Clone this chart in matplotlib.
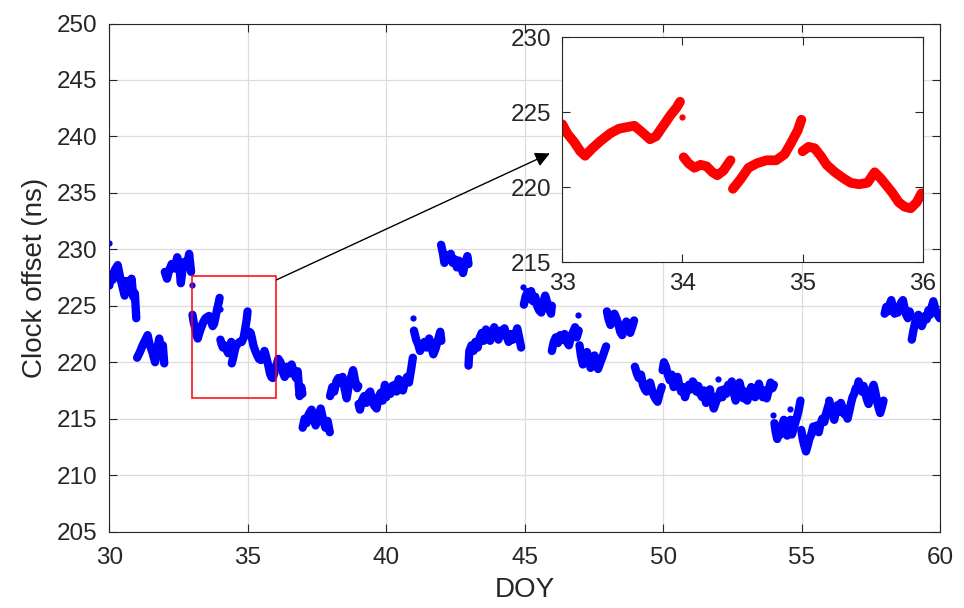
import matplotlib
matplotlib.use('Agg')
import matplotlib.pyplot as plt
import matplotlib.patches as patches

plt.rcParams['font.family'] = ['Liberation Sans', 'DejaVu Sans']

# clock offset record, one list per continuous piece (DOY / ns)
seg_doy = [
    [30.0, 30.05, 30.12, 30.2, 30.3, 30.38, 30.45, 30.55, 30.62, 30.7, 30.8, 30.86, 30.92, 30.97],
    [31.0, 31.1, 31.2, 31.3, 31.38, 31.45, 31.55, 31.65, 31.72, 31.8, 31.87, 31.93, 31.98],
    [32.0, 32.08, 32.15, 32.25, 32.35, 32.45, 32.52, 32.58, 32.65, 32.72, 32.8, 32.88, 32.95],
    [33.0, 33.04, 33.1, 33.15, 33.19, 33.25, 33.32, 33.4, 33.47, 33.53, 33.6, 33.66, 33.73, 33.78,
     33.84, 33.9, 33.95, 33.98],
    [34.01, 34.05, 34.1, 34.15, 34.2, 34.25, 34.29, 34.34, 34.4],
    [34.42, 34.48, 34.55, 34.62, 34.7, 34.78, 34.85, 34.9, 34.96, 34.99],
    [35.0, 35.05, 35.1, 35.15, 35.2, 35.27, 35.34, 35.4, 35.47, 35.54, 35.6, 35.65, 35.7, 35.75,
     35.8, 35.85, 35.9, 35.95, 35.99],
    [36.0, 36.1, 36.18, 36.25, 36.33, 36.42, 36.5, 36.58, 36.66, 36.74, 36.8, 36.87, 36.93, 36.97],
    [36.98, 37.05, 37.12, 37.2, 37.3, 37.38, 37.45, 37.55, 37.63, 37.72, 37.8, 37.88, 37.96],
    [37.97, 38.05, 38.12, 38.2, 38.27, 38.35, 38.42, 38.5, 38.57, 38.65, 38.72, 38.8, 38.88, 38.95, 38.99],
    [39.0, 39.05, 39.12, 39.2, 39.28, 39.35, 39.42, 39.5, 39.58, 39.65, 39.72, 39.8, 39.87, 39.95, 39.99],
    [40.0, 40.08, 40.15, 40.22, 40.3, 40.37, 40.45, 40.52, 40.6, 40.68, 40.75, 40.82, 40.9, 40.96],
    [41.0, 41.08, 41.15, 41.22, 41.3, 41.38, 41.45, 41.55, 41.62, 41.7, 41.78, 41.87, 41.95, 41.99],
    [41.98, 42.05, 42.1, 42.17, 42.25, 42.33, 42.4, 42.48, 42.55, 42.62, 42.7, 42.77, 42.85, 42.93, 42.97],
    [42.97, 43.0, 43.08, 43.15, 43.22, 43.3, 43.38, 43.45, 43.52, 43.6, 43.68, 43.75, 43.82, 43.9,
     43.97, 44.05, 44.12, 44.2, 44.27, 44.35, 44.42, 44.5, 44.58, 44.65, 44.73, 44.8, 44.87],
    [44.97, 45.03, 45.1, 45.17, 45.23, 45.3, 45.38, 45.45, 45.52, 45.6, 45.67, 45.74, 45.8, 45.87, 45.95, 45.98],
    [45.98, 46.05, 46.12, 46.2, 46.28, 46.36, 46.44, 46.52, 46.6, 46.67, 46.75, 46.82, 46.88, 46.95],
    [46.98, 47.03, 47.1, 47.18, 47.25, 47.32, 47.38, 47.45, 47.52, 47.58, 47.65, 47.72, 47.8, 47.87, 47.94],
    [47.97, 48.03, 48.1, 48.17, 48.24, 48.31, 48.38, 48.45, 48.52, 48.6, 48.67, 48.74, 48.81, 48.88, 48.95],
    [48.98, 49.05, 49.12, 49.2, 49.27, 49.34, 49.4, 49.47, 49.53, 49.6, 49.67, 49.74, 49.8, 49.87, 49.95],
    [49.98, 50.03, 50.1, 50.17, 50.24, 50.31, 50.38, 50.45, 50.52, 50.58, 50.65, 50.72, 50.79, 50.86,
     50.93, 50.98],
    [51.0, 51.07, 51.14, 51.2, 51.27, 51.34, 51.41, 51.48, 51.55, 51.62, 51.69, 51.76, 51.83, 51.9, 51.97],
    [52.0, 52.07, 52.14, 52.21, 52.28, 52.35, 52.42, 52.48, 52.55, 52.62, 52.69, 52.76, 52.83, 52.9,
     52.97, 53.04, 53.11, 53.18, 53.25, 53.32, 53.39, 53.46, 53.53, 53.6, 53.67, 53.74, 53.81, 53.88,
     53.95, 54.0],
    [54.02, 54.06, 54.12, 54.18, 54.24, 54.3, 54.36, 54.42, 54.48, 54.54, 54.6, 54.65, 54.72, 54.78,
     54.84, 54.9, 54.96],
    [54.99, 55.04, 55.1, 55.16, 55.22, 55.28, 55.35, 55.42, 55.48, 55.55, 55.62, 55.68, 55.75, 55.82,
     55.88, 55.95, 56.0],
    [56.0, 56.06, 56.12, 56.18, 56.24, 56.3, 56.36, 56.42, 56.48, 56.54, 56.6, 56.66, 56.72, 56.78,
     56.84, 56.9, 56.96],
    [57.0, 57.06, 57.12, 57.18, 57.24, 57.3, 57.36, 57.42, 57.48, 57.54, 57.6, 57.66, 57.72, 57.78,
     57.84, 57.9, 57.96],
    [58.0, 58.06, 58.12, 58.18, 58.24, 58.3, 58.36, 58.42, 58.48, 58.54, 58.6, 58.66, 58.72, 58.78,
     58.84, 58.9, 58.96],
    [58.98, 59.04, 59.1, 59.16, 59.22, 59.28, 59.34, 59.4, 59.46, 59.52, 59.58, 59.64, 59.7, 59.76,
     59.82, 59.88, 59.94, 59.99],
]
seg_ns = [
    [226.8, 227.8, 227.3, 228.2, 228.6, 227.6, 226.9, 225.9, 227.2, 226.3, 227.4, 225.8, 226.1, 223.9],
    [220.4, 220.9, 221.5, 222.0, 222.4, 221.6, 220.9, 220.0, 221.1, 222.1, 220.6, 221.5, 219.9],
    [228.0, 227.4, 228.1, 228.7, 228.3, 229.3, 228.6, 227.0, 228.4, 228.9, 228.5, 229.6, 228.0],
    [224.2, 223.6, 223.0, 222.4, 222.1, 222.6, 223.1, 223.6, 223.9, 224.0, 224.1, 223.7, 223.2, 223.4,
     224.1, 224.8, 225.3, 225.7],
    [222.0, 221.6, 221.3, 221.5, 221.4, 221.0, 220.8, 221.1, 221.8],
    [219.9, 220.5, 221.3, 221.6, 221.8, 221.8, 222.2, 222.9, 223.8, 224.5],
    [222.4, 222.7, 222.6, 222.1, 221.5, 221.0, 220.6, 220.3, 220.2, 220.3, 221.0, 220.6, 220.1, 219.6,
     219.0, 218.7, 218.6, 219.0, 219.6],
    [219.4, 220.3, 220.0, 219.2, 218.7, 219.6, 219.0, 219.8, 219.1, 218.6, 219.2, 217.0, 217.8, 217.2],
    [214.2, 215.0, 214.6, 215.4, 215.8, 215.0, 214.4, 215.3, 215.9, 214.9, 214.2, 214.8, 213.8],
    [217.0, 217.8, 217.4, 218.3, 218.6, 218.2, 218.7, 217.6, 216.8, 218.0, 218.6, 219.3, 218.3, 217.7, 217.9],
    [216.3, 215.8, 216.6, 217.0, 216.4, 217.2, 217.4, 216.5, 216.1, 215.9, 216.9, 217.3, 216.6, 218.0, 217.5],
    [216.9, 217.6, 217.2, 217.9, 218.0, 217.4, 218.5, 218.1, 217.5, 218.3, 218.7, 218.2, 219.4, 220.4],
    [222.8, 222.0, 221.6, 221.0, 221.5, 221.8, 221.3, 222.1, 221.4, 220.7, 221.2, 222.0, 222.7, 221.9],
    [230.4, 229.6, 228.8, 229.5, 229.2, 229.6, 228.8, 229.1, 228.4, 229.0, 228.6, 227.9, 228.8, 229.4, 228.7],
    [219.7, 221.0, 221.5, 221.0, 221.8, 221.3, 222.2, 222.6, 221.9, 222.9, 222.3, 221.9, 222.6, 223.1,
     222.3, 222.0, 222.8, 222.4, 223.0, 222.3, 221.8, 222.5, 222.0, 222.4, 223.0, 222.2, 221.3],
    [225.1, 225.8, 226.2, 225.6, 226.3, 225.4, 225.8, 225.0, 224.6, 224.4, 225.3, 225.9, 225.4, 224.8, 224.3, 225.0],
    [221.0, 221.8, 222.2, 221.7, 222.4, 222.0, 222.5, 221.8, 221.5, 222.3, 222.7, 223.1, 222.2, 222.8],
    [221.5, 220.6, 219.8, 220.4, 220.9, 220.0, 219.5, 219.9, 220.6, 220.1, 219.4, 219.9, 220.4, 220.9, 221.4],
    [224.5, 223.8, 223.3, 223.7, 224.3, 223.9, 223.4, 222.7, 222.4, 223.0, 223.6, 223.0, 222.6, 223.1, 223.7],
    [219.6, 219.0, 218.6, 218.9, 218.0, 217.6, 217.4, 218.0, 218.2, 217.5, 217.0, 216.7, 216.5, 217.2, 217.8],
    [219.3, 220.0, 219.6, 218.9, 218.4, 218.9, 217.8, 218.3, 218.7, 218.0, 217.4, 217.8, 216.9, 217.5,
     218.0, 217.6],
    [217.6, 218.3, 218.0, 217.4, 217.9, 217.2, 216.9, 217.5, 216.4, 217.2, 217.6, 216.5, 215.9, 216.4, 217.0],
    [216.8, 217.5, 216.9, 217.6, 217.2, 218.0, 217.5, 218.3, 217.3, 216.6, 217.4, 218.2, 217.5, 216.8,
     217.4, 216.6, 217.2, 217.8, 217.3, 216.9, 217.6, 218.1, 217.3, 216.9, 217.5, 216.8, 217.5, 218.2,
     217.7, 218.0],
    [214.6, 213.9, 213.2, 214.0, 213.6, 214.4, 214.9, 214.0, 213.5, 214.3, 214.9, 213.6, 214.2, 214.7,
     215.2, 215.8, 216.6],
    [214.0, 213.2, 212.6, 212.1, 212.6, 213.2, 213.6, 214.3, 213.9, 214.4, 213.8, 214.5, 215.0, 214.7,
     215.4, 216.0, 216.4],
    [216.6, 215.9, 215.3, 214.9, 215.6, 216.2, 215.6, 216.4, 216.0, 215.4, 215.8, 215.0, 215.6, 216.3,
     216.9, 217.2, 217.7],
    [217.6, 218.3, 217.9, 217.4, 217.9, 217.3, 216.7, 216.3, 216.9, 217.6, 218.0, 217.4, 216.6, 216.0,
     215.5, 216.0, 216.6],
    [224.3, 224.9, 224.5, 225.1, 225.5, 224.8, 224.3, 224.9, 224.4, 224.9, 225.3, 225.5, 224.8, 224.2,
     223.9, 224.5, 224.1],
    [222.0, 222.8, 223.5, 223.9, 224.2, 223.6, 223.2, 223.6, 224.1, 223.8, 224.6, 224.2, 224.9, 225.4,
     224.8, 224.4, 224.1, 223.9],
]

# isolated epochs
stray_doy = [30.0, 32.97, 34.0, 40.97, 44.95, 46.93, 51.99, 53.98, 54.58]
stray_ns = [230.6, 226.8, 224.7, 223.9, 226.7, 224.2, 218.5, 215.3, 215.9]

zoom_doy = (33, 36)
zoom_ns = (216.8, 227.6)

dark = '#262626'

fig = plt.figure(figsize=(9.64, 6.08), dpi=100)
ax = fig.add_axes([0.1135, 0.1257, 0.8616, 0.8356])

for t, y in zip(seg_doy, seg_ns):
    ax.plot(t, y, '-', color='#0000ff', lw=6, solid_capstyle='round', solid_joinstyle='round')
ax.plot(stray_doy, stray_ns, 'o', color='#0000ff', ms=4.5, mew=0)

ax.add_patch(patches.Rectangle((zoom_doy[0], zoom_ns[0]), zoom_doy[1] - zoom_doy[0],
                               zoom_ns[1] - zoom_ns[0], fill=False, edgecolor='red', lw=1.1, zorder=5))

ax.set_xlim(30, 60)
ax.set_ylim(205, 250)
ax.set_xticks(range(30, 61, 5))
ax.set_yticks(range(205, 251, 5))
ax.grid(True, color='#dcdcdc', lw=0.9)
ax.set_axisbelow(True)
ax.tick_params(direction='in', length=6, width=0.8, top=True, right=True,
               labelsize=17.5, colors=dark, pad=9)
ax.tick_params(axis='x', pad=11)
for s in ax.spines.values():
    s.set_color(dark)
    s.set_linewidth(0.8)
ax.set_xlabel('DOY', fontsize=20, color=dark, labelpad=6)
ax.set_ylabel('Clock offset (ns)', fontsize=20, color=dark, labelpad=6)

ax.annotate('', xy=(46.0, 238.6), xytext=(35.95, 227.2),
            arrowprops=dict(arrowstyle='-|>', color='black', lw=1.0, mutation_scale=22),
            zorder=6)

# zoomed-in view
ins = fig.add_axes([0.5833, 0.5686, 0.3739, 0.3701])
ins.set_facecolor('white')
for t, y in zip(seg_doy, seg_ns):
    pts = [(a, b) for a, b in zip(t, y) if zoom_doy[0] <= a < zoom_doy[1]]
    if pts:
        ins.plot([p[0] for p in pts], [p[1] for p in pts], '-', color='#ff0000', lw=7,
                 solid_capstyle='round', solid_joinstyle='round')
sx = [a for a in stray_doy if zoom_doy[0] <= a < zoom_doy[1]]
sy = [b for a, b in zip(stray_doy, stray_ns) if zoom_doy[0] <= a < zoom_doy[1]]
ins.plot(sx, sy, 'o', color='#ff0000', ms=4.5, mew=0)
ins.set_xlim(33, 36)
ins.set_ylim(215, 230)
ins.set_xticks([33, 34, 35, 36])
ins.set_yticks([215, 220, 225, 230])
ins.tick_params(direction='in', length=6, width=0.8, top=True, right=True,
                labelsize=17.5, colors=dark, pad=8)
for s in ins.spines.values():
    s.set_color(dark)
    s.set_linewidth(0.8)

fig.savefig('out.png', dpi=100)
